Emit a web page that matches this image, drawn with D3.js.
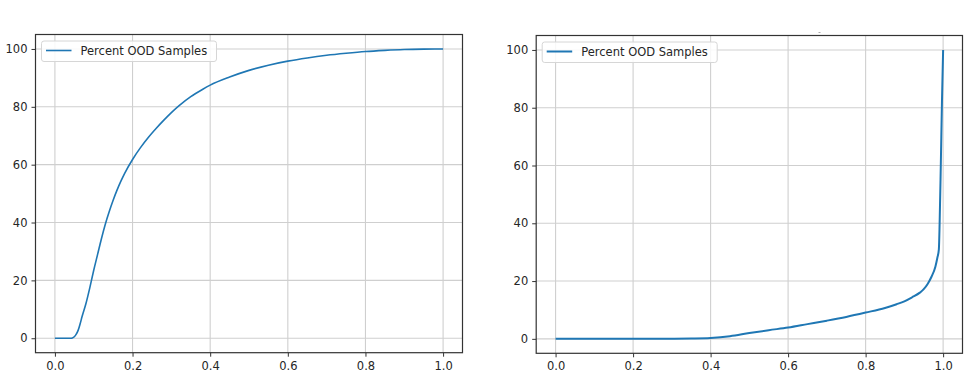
<!DOCTYPE html>
<html>
<head>
<meta charset="utf-8">
<script src="https://cdn.jsdelivr.net/npm/d3@7"></script>
<style>
  html, body { margin: 0; padding: 0; background: #fff; }
  svg { display: block; }
  text { font-family: "DejaVu Sans", sans-serif; }
</style>
</head>
<body>
<svg id="chart" width="972" height="380"></svg>
<script>
// ---- data ----
const legendLabel = "Percent OOD Samples";
const xTicks = [0.0, 0.2, 0.4, 0.6, 0.8, 1.0];
const yTicks = [0, 20, 40, 60, 80, 100];

const leftX = [0, 0.01, 0.02, 0.03, 0.04, 0.045, 0.05, 0.055, 0.06, 0.065, 0.07, 0.08, 0.09, 0.1, 0.11, 0.12, 0.13, 0.14, 0.15, 0.16, 0.17, 0.18, 0.2, 0.22, 0.24, 0.26, 0.28, 0.3, 0.32, 0.35, 0.38, 0.4, 0.45, 0.5, 0.55, 0.6, 0.65, 0.7, 0.75, 0.8, 0.85, 0.9, 0.95, 1.0];
const leftY = [0, 0, 0, 0, 0, 0.1, 0.5, 1.4, 2.8, 5, 7.5, 12, 17.5, 23.5, 29, 34.5, 39.5, 43.8, 47.7, 51.2, 54.3, 57.1, 61.8, 65.8, 69.3, 72.4, 75.3, 78, 80.4, 83.5, 86, 87.5, 90.3, 92.6, 94.4, 95.8, 96.9, 97.8, 98.5, 99.1, 99.5, 99.8, 99.95, 100];

const rightX = [0, 0.1, 0.2, 0.25, 0.3, 0.35, 0.4, 0.45, 0.5, 0.55, 0.6, 0.65, 0.7, 0.75, 0.8, 0.85, 0.88, 0.9, 0.92, 0.94, 0.95, 0.96, 0.97, 0.98, 0.985, 0.989, 0.991, 0.994, 0.997, 1.0];
const rightY = [0, 0, 0, 0.02, 0.05, 0.12, 0.3, 0.9, 2.0, 3.0, 3.9, 5.1, 6.3, 7.6, 9.1, 10.7, 12.0, 13.0, 14.4, 16.0, 17.2, 19.0, 21.5, 25.0, 28.0, 31.0, 40.0, 60.0, 82.0, 100.0];

// ---- layout ----
const panels = [
  { xs: leftX,  ys: leftY,  left: 35.5, right: 462.5, top: 34.5, bottom: 352.7, lw: 1.6 },
  { xs: rightX, ys: rightY, left: 536.2, right: 962.5, top: 35.5, bottom: 353.3, lw: 2.0 }
];

const svg = d3.select("#chart");
const blue = "#1f77b4";
const textColor = "#262626";

panels.forEach(p => {
  const x = d3.scaleLinear().domain([-0.05, 1.05]).range([p.left, p.right]);
  const y = d3.scaleLinear().domain([-5, 105]).range([p.bottom, p.top]);
  const g = svg.append("g");

  // grid
  g.append("g").selectAll("line").data(xTicks).join("line")
    .attr("x1", d => x(d)).attr("x2", d => x(d))
    .attr("y1", p.top).attr("y2", p.bottom)
    .attr("stroke", "#cfcfcf").attr("stroke-width", 1.1);
  g.append("g").selectAll("line").data(yTicks).join("line")
    .attr("y1", d => y(d)).attr("y2", d => y(d))
    .attr("x1", p.left).attr("x2", p.right)
    .attr("stroke", "#cfcfcf").attr("stroke-width", 1.1);

  // curve
  const pts = p.xs.map((v, i) => [v, p.ys[i]]);
  g.append("path").datum(pts)
    .attr("fill", "none").attr("stroke", blue).attr("stroke-width", p.lw)
    .attr("stroke-linejoin", "round")
    .attr("d", d3.line().curve(d3.curveMonotoneX).x(d => x(d[0])).y(d => y(d[1])));

  // axes
  const xAxis = d3.axisBottom(x).tickValues(xTicks).tickFormat(d3.format(".1f")).tickSize(4).tickPadding(5);
  const yAxis = d3.axisLeft(y).tickValues(yTicks).tickFormat(d3.format("d")).tickSize(4).tickPadding(4);

  const gx = g.append("g").attr("transform", `translate(0,${p.bottom})`).call(xAxis);
  const gy = g.append("g").attr("transform", `translate(${p.left},0)`).call(yAxis);
  [gx, gy].forEach(a => {
    a.select(".domain").remove();
    a.selectAll(".tick line").attr("stroke", "#333").attr("stroke-width", 1);
    a.selectAll(".tick text").attr("fill", textColor)
      .style("font-family", "'DejaVu Sans', sans-serif").style("font-size", "11.5px");
  });

  // frame
  g.append("rect")
    .attr("x", p.left).attr("y", p.top)
    .attr("width", p.right - p.left).attr("height", p.bottom - p.top)
    .attr("fill", "none").attr("stroke", "#333").attr("stroke-width", 1.2);

  // legend
  const lg = g.append("g").attr("transform", `translate(${p.left + 6},${p.top + 6.5})`);
  lg.append("rect").attr("x", 0).attr("y", 0).attr("width", 175).attr("height", 20.5)
    .attr("rx", 2.5).attr("fill", "#fff").attr("fill-opacity", 0.85)
    .attr("stroke", "#d6d6d6").attr("stroke-width", 1);
  lg.append("line").attr("x1", 4.5).attr("x2", 30).attr("y1", 9.5).attr("y2", 9.5)
    .attr("stroke", blue).attr("stroke-width", p.lw);
  lg.append("text").attr("x", 39).attr("y", 14).attr("fill", textColor)
    .style("font-size", "11.5px").text(legendLabel);
});

// tiny stray mark above the right panel
svg.append("line").attr("x1", 818.5).attr("x2", 820.5).attr("y1", 32.5).attr("y2", 32.5)
  .attr("stroke", "#aaa").attr("stroke-width", 1);
</script>
</body>
</html>
